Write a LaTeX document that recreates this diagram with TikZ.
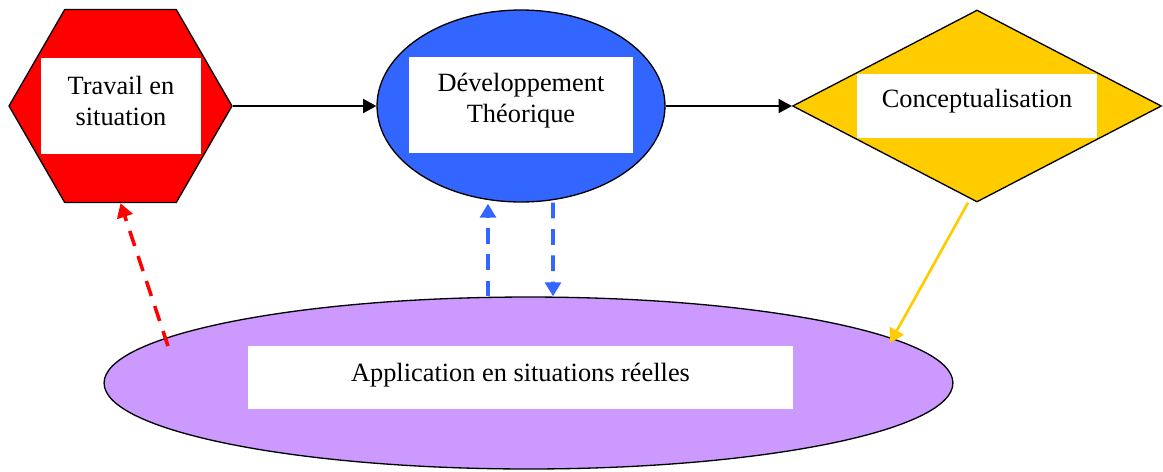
\documentclass[tikz,border=0pt]{standalone}
\usepackage{fontspec}
\setmainfont{Liberation Serif}
\usepackage{xcolor}
\usepackage{tikz}
\usetikzlibrary{arrows.meta,calc,positioning,shapes}

\definecolor{hexred}{HTML}{FF0000}
\definecolor{devblue}{HTML}{3366FF}
\definecolor{conyellow}{HTML}{FFCC00}
\definecolor{applilac}{HTML}{CC99FF}

\begin{document}
\begin{tikzpicture}[x=0.02cm,y=-0.02cm]
\tikzset{shapebox/.style = {draw=black,line width=0.75pt,inner sep=0pt}}
\tikzset{whitebox/.style = {fill=white,inner sep=0pt}}
\tikzset{lbl/.style = {align=center,inner sep=0pt,font=\fontsize{15}{17.5}\selectfont}}
\tikzset{edge/.style = {-{Triangle[length=7.5pt,width=8pt]},line width=0.8pt}}
\tikzset{dashedge/.style = {-{Triangle[length=8pt,width=9pt]},line width=2pt,dash pattern=on 9pt off 6pt}}
\useasboundingbox (0,0) rectangle (1163,471);
% shapes
\node[shapebox,fill=hexred,regular polygon,regular polygon sides=6,minimum size=4.46cm] (hex) at (120.5,106) {};
\node[shapebox,fill=devblue,ellipse,minimum width=5.76cm,minimum height=3.84cm] (devel) at (521,106) {};
\node[shapebox,fill=conyellow,diamond,minimum width=7.38cm,minimum height=3.84cm] (concept) at (977,106) {};
\node[shapebox,fill=applilac,ellipse,minimum width=16.98cm,minimum height=3.44cm] (app) at (528.5,383) {};
% white boxes and texts
\node[whitebox,minimum width=3.2cm,minimum height=1.92cm] (hexbox) at (121,106) {};
\node[whitebox,minimum width=4.48cm,minimum height=1.92cm] (devbox) at (521,105) {};
\node[whitebox,minimum width=4.8cm,minimum height=1.28cm] (conbox) at (977,106) {};
\node[whitebox,minimum width=10.9cm,minimum height=1.26cm] (appbox) at (520.5,377.5) {};
\node[lbl] (hextxt) at (121,101) {Travail en\\situation};
\node[lbl] (devtxt) at (521,101) {Développement\\Théorique};
\node[lbl] (contxt) at (977,101) {Conceptualisation};
\node[lbl] (apptxt) at (520.5,375) {Application en situations réelles};
% connectors
\draw[edge] (hex) to (devel);
\draw[edge] (devel) to (concept);
\draw[dashedge,hexred] ([shift={(-360.5,-37)}]app.center) to (hex.south);
\draw[dashedge,devblue] ([shift={(-40.5,0)}]app.north) to ([shift={(-33,1)}]devel.south);
\draw[dashedge,devblue] ([shift={(32,0)}]devel.south) to ([shift={(24.5,0)}]app.north);
\draw[-{Triangle[length=8pt,width=9pt]},line width=1.5pt,conyellow] ([shift={(-9,0)}]concept.south) to ([shift={(361.5,-40)}]app.center);
\end{tikzpicture}
\end{document}
